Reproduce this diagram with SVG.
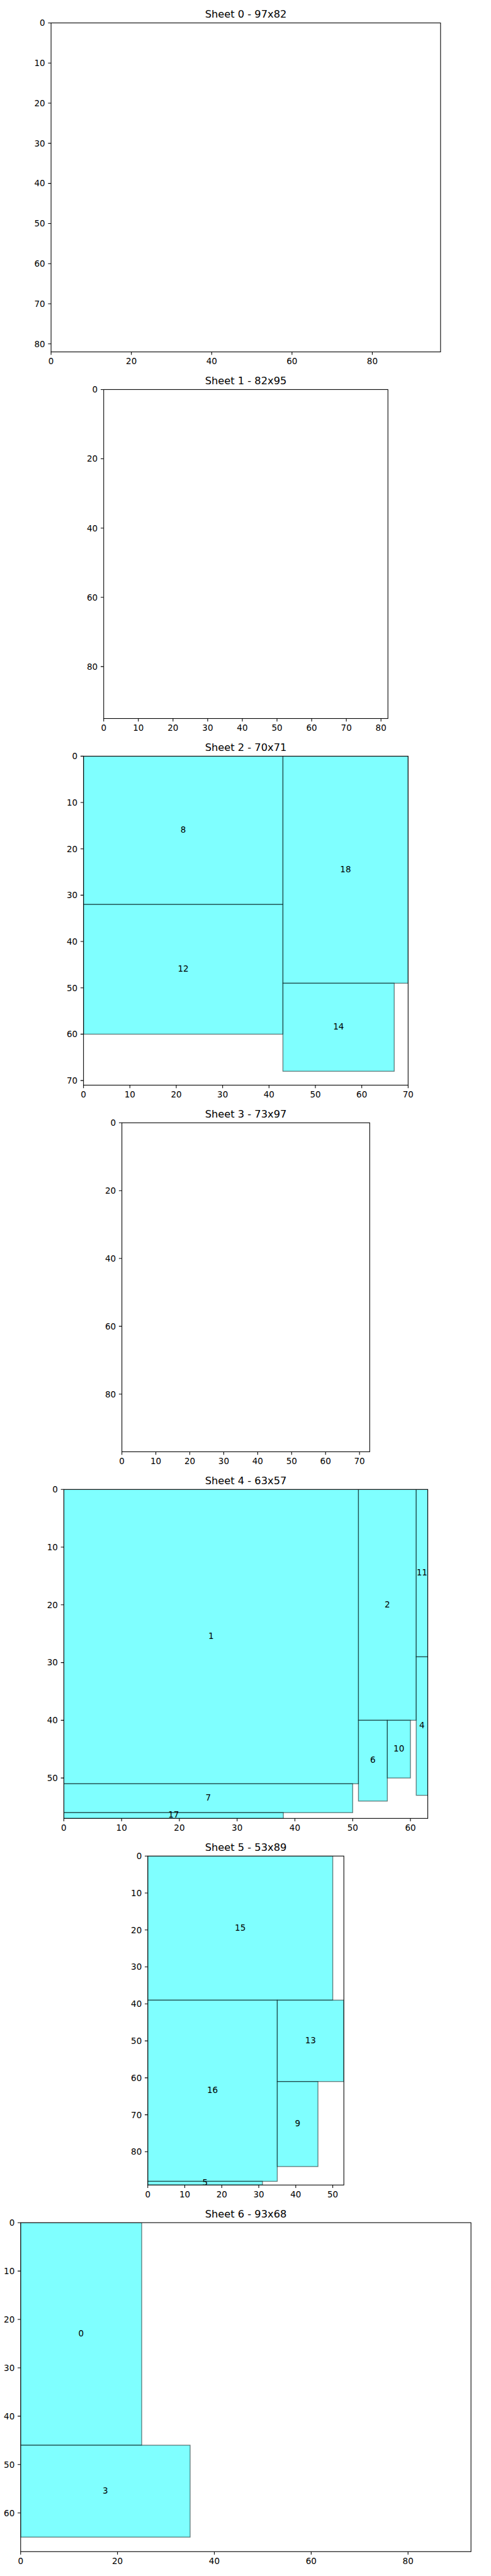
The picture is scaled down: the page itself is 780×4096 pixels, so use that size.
<svg xmlns="http://www.w3.org/2000/svg" width="780" height="4096" viewBox="0 0 780 4096">
<style>
.sp{fill:none;stroke:#000;stroke-width:1.11}
.tk{fill:none;stroke:#000;stroke-width:1.11}
.pc{fill:#00ffff;fill-opacity:0.5;stroke:#000;stroke-opacity:0.5;stroke-width:1.39}
text{font-family:"DejaVu Sans","Liberation Sans",sans-serif;fill:#000}
.lb{font-size:13.89px;text-anchor:middle}
.xt{font-size:13.89px;text-anchor:middle}
.yt{font-size:13.89px;text-anchor:end}
.ti{font-size:16.67px;text-anchor:middle}
</style>
<defs>
<clipPath id="c2" clipPathUnits="userSpaceOnUse"><rect x="136.05" y="1233.2" width="528.9" height="536.5"/></clipPath>
<clipPath id="c4" clipPathUnits="userSpaceOnUse"><rect x="104.01" y="2429" width="592.98" height="536.5"/></clipPath>
<clipPath id="c5" clipPathUnits="userSpaceOnUse"><rect x="240.76" y="3026.9" width="319.49" height="536.5"/></clipPath>
<clipPath id="c6" clipPathUnits="userSpaceOnUse"><rect x="33.63" y="3624.8" width="733.74" height="536.5"/></clipPath>
</defs>
<rect x="0" y="0" width="780" height="4096" fill="#fff"/>
<g transform="scale(0.975)">

<g id="sheet0">
<text class="ti" x="400.5" y="29.1">Sheet 0 - 97x82</text>
<rect class="sp" x="83.2" y="37.4" width="634.6" height="536.5"/>
<path class="tk" d="M78.34 37.4h4.86M78.34 102.83h4.86M78.34 168.25h4.86M78.34 233.68h4.86M78.34 299.11h4.86M78.34 364.53h4.86M78.34 429.96h4.86M78.34 495.39h4.86M78.34 560.82h4.86M83.2 573.9v4.86M214.05 573.9v4.86M344.9 573.9v4.86M475.76 573.9v4.86M606.6 573.9v4.86"/>
<text class="yt" x="73.48" y="42.4">0</text>
<text class="yt" x="73.48" y="107.83">10</text>
<text class="yt" x="73.48" y="173.25">20</text>
<text class="yt" x="73.48" y="238.68">30</text>
<text class="yt" x="73.48" y="304.11">40</text>
<text class="yt" x="73.48" y="369.53">50</text>
<text class="yt" x="73.48" y="434.96">60</text>
<text class="yt" x="73.48" y="500.39">70</text>
<text class="yt" x="73.48" y="565.82">80</text>
<text class="xt" x="83.2" y="594.2">0</text>
<text class="xt" x="214.05" y="594.2">20</text>
<text class="xt" x="344.9" y="594.2">40</text>
<text class="xt" x="475.76" y="594.2">60</text>
<text class="xt" x="606.6" y="594.2">80</text>
</g>

<g id="sheet1">
<text class="ti" x="400.5" y="627">Sheet 1 - 82x95</text>
<rect class="sp" x="168.95" y="635.3" width="463.1" height="536.5"/>
<path class="tk" d="M164.09 635.3h4.86M164.09 748.25h4.86M164.09 861.2h4.86M164.09 974.14h4.86M164.09 1087.09h4.86M168.95 1171.8v4.86M225.42 1171.8v4.86M281.9 1171.8v4.86M338.37 1171.8v4.86M394.85 1171.8v4.86M451.32 1171.8v4.86M507.79 1171.8v4.86M564.27 1171.8v4.86M620.74 1171.8v4.86"/>
<text class="yt" x="159.23" y="640.3">0</text>
<text class="yt" x="159.23" y="753.25">20</text>
<text class="yt" x="159.23" y="866.2">40</text>
<text class="yt" x="159.23" y="979.14">60</text>
<text class="yt" x="159.23" y="1092.09">80</text>
<text class="xt" x="168.95" y="1192.1">0</text>
<text class="xt" x="225.42" y="1192.1">10</text>
<text class="xt" x="281.9" y="1192.1">20</text>
<text class="xt" x="338.37" y="1192.1">30</text>
<text class="xt" x="394.85" y="1192.1">40</text>
<text class="xt" x="451.32" y="1192.1">50</text>
<text class="xt" x="507.79" y="1192.1">60</text>
<text class="xt" x="564.27" y="1192.1">70</text>
<text class="xt" x="620.74" y="1192.1">80</text>
</g>

<g id="sheet2">
<text class="ti" x="400.5" y="1224.9">Sheet 2 - 70x71</text>
<g clip-path="url(#c2)">
<g id="piece8"><rect class="pc" x="136.05" y="1233.2" width="324.92" height="241.8"/><text class="lb" x="298.51" y="1357.9">8</text></g>
<g id="piece12"><rect class="pc" x="136.05" y="1475" width="324.92" height="211.58"/><text class="lb" x="298.51" y="1584.6">12</text></g>
<g id="piece18"><rect class="pc" x="460.97" y="1233.2" width="204.02" height="370.26"/><text class="lb" x="562.98" y="1422.1">18</text></g>
<g id="piece14"><rect class="pc" x="460.97" y="1603.46" width="181.35" height="143.57"/><text class="lb" x="551.65" y="1679">14</text></g>
</g>
<rect class="sp" x="136.05" y="1233.2" width="528.9" height="536.5"/>
<path class="tk" d="M131.19 1233.2h4.86M131.19 1308.76h4.86M131.19 1384.33h4.86M131.19 1459.89h4.86M131.19 1535.45h4.86M131.19 1611.02h4.86M131.19 1686.58h4.86M131.19 1762.14h4.86M136.05 1769.7v4.86M211.61 1769.7v4.86M287.18 1769.7v4.86M362.74 1769.7v4.86M438.3 1769.7v4.86M513.87 1769.7v4.86M589.43 1769.7v4.86M664.99 1769.7v4.86"/>
<text class="yt" x="126.33" y="1238.2">0</text>
<text class="yt" x="126.33" y="1313.76">10</text>
<text class="yt" x="126.33" y="1389.33">20</text>
<text class="yt" x="126.33" y="1464.89">30</text>
<text class="yt" x="126.33" y="1540.45">40</text>
<text class="yt" x="126.33" y="1616.02">50</text>
<text class="yt" x="126.33" y="1691.58">60</text>
<text class="yt" x="126.33" y="1767.14">70</text>
<text class="xt" x="136.05" y="1790">0</text>
<text class="xt" x="211.61" y="1790">10</text>
<text class="xt" x="287.18" y="1790">20</text>
<text class="xt" x="362.74" y="1790">30</text>
<text class="xt" x="438.3" y="1790">40</text>
<text class="xt" x="513.87" y="1790">50</text>
<text class="xt" x="589.43" y="1790">60</text>
<text class="xt" x="664.99" y="1790">70</text>
</g>

<g id="sheet3">
<text class="ti" x="400.5" y="1822.8">Sheet 3 - 73x97</text>
<rect class="sp" x="198.62" y="1831.1" width="403.76" height="536.5"/>
<path class="tk" d="M193.76 1831.1h4.86M193.76 1941.72h4.86M193.76 2052.34h4.86M193.76 2162.96h4.86M193.76 2273.57h4.86M198.62 2367.6v4.86M253.93 2367.6v4.86M309.24 2367.6v4.86M364.55 2367.6v4.86M419.86 2367.6v4.86M475.17 2367.6v4.86M530.47 2367.6v4.86M585.78 2367.6v4.86"/>
<text class="yt" x="188.9" y="1836.1">0</text>
<text class="yt" x="188.9" y="1946.72">20</text>
<text class="yt" x="188.9" y="2057.34">40</text>
<text class="yt" x="188.9" y="2167.96">60</text>
<text class="yt" x="188.9" y="2278.57">80</text>
<text class="xt" x="198.62" y="2387.9">0</text>
<text class="xt" x="253.93" y="2387.9">10</text>
<text class="xt" x="309.24" y="2387.9">20</text>
<text class="xt" x="364.55" y="2387.9">30</text>
<text class="xt" x="419.86" y="2387.9">40</text>
<text class="xt" x="475.17" y="2387.9">50</text>
<text class="xt" x="530.47" y="2387.9">60</text>
<text class="xt" x="585.78" y="2387.9">70</text>
</g>

<g id="sheet4">
<text class="ti" x="400.5" y="2420.7">Sheet 4 - 63x57</text>
<g clip-path="url(#c4)">
<g id="piece1"><rect class="pc" x="104.01" y="2429" width="480.03" height="480.03"/><text class="lb" x="344.02" y="2672.8">1</text></g>
<g id="piece2"><rect class="pc" x="584.04" y="2429" width="94.12" height="376.49"/><text class="lb" x="631.1" y="2621.05">2</text></g>
<g id="piece11"><rect class="pc" x="678.16" y="2429" width="18.83" height="272.96"/><text class="lb" x="687.57" y="2569.3">11</text></g>
<g id="piece4"><rect class="pc" x="678.16" y="2701.96" width="18.83" height="225.89"/><text class="lb" x="687.57" y="2818.7">4</text></g>
<g id="piece6"><rect class="pc" x="584.04" y="2805.49" width="47.06" height="131.77"/><text class="lb" x="607.57" y="2875.2">6</text></g>
<g id="piece10"><rect class="pc" x="631.1" y="2805.49" width="37.65" height="94.13"/><text class="lb" x="649.92" y="2856.35">10</text></g>
<g id="piece7"><rect class="pc" x="104.01" y="2909.03" width="470.62" height="47.06"/><text class="lb" x="339.32" y="2936.4">7</text></g>
<g id="piece17"><rect class="pc" x="104.01" y="2956.09" width="357.67" height="9.41"/><text class="lb" x="282.84" y="2964.6">17</text></g>
</g>
<rect class="sp" x="104.01" y="2429" width="592.98" height="536.5"/>
<path class="tk" d="M99.15 2429h4.86M99.15 2523.12h4.86M99.15 2617.25h4.86M99.15 2711.37h4.86M99.15 2805.49h4.86M99.15 2899.62h4.86M104.01 2965.5v4.86M198.13 2965.5v4.86M292.26 2965.5v4.86M386.38 2965.5v4.86M480.5 2965.5v4.86M574.63 2965.5v4.86M668.75 2965.5v4.86"/>
<text class="yt" x="94.29" y="2434">0</text>
<text class="yt" x="94.29" y="2528.12">10</text>
<text class="yt" x="94.29" y="2622.25">20</text>
<text class="yt" x="94.29" y="2716.37">30</text>
<text class="yt" x="94.29" y="2810.49">40</text>
<text class="yt" x="94.29" y="2904.62">50</text>
<text class="xt" x="104.01" y="2985.8">0</text>
<text class="xt" x="198.13" y="2985.8">10</text>
<text class="xt" x="292.26" y="2985.8">20</text>
<text class="xt" x="386.38" y="2985.8">30</text>
<text class="xt" x="480.5" y="2985.8">40</text>
<text class="xt" x="574.63" y="2985.8">50</text>
<text class="xt" x="668.75" y="2985.8">60</text>
</g>

<g id="sheet5">
<text class="ti" x="400.5" y="3018.6">Sheet 5 - 53x89</text>
<g clip-path="url(#c5)">
<g id="piece15"><rect class="pc" x="240.76" y="3026.9" width="301.41" height="235"/><text class="lb" x="391.46" y="3148.25">15</text></g>
<g id="piece16"><rect class="pc" x="240.76" y="3261.9" width="210.98" height="295.47"/><text class="lb" x="346.25" y="3413.5">16</text></g>
<g id="piece13"><rect class="pc" x="451.74" y="3261.9" width="108.51" height="132.71"/><text class="lb" x="505.96" y="3332.1">13</text></g>
<g id="piece9"><rect class="pc" x="451.74" y="3394.61" width="66.31" height="138.65"/><text class="lb" x="484.9" y="3467.7">9</text></g>
<g id="piece5"><rect class="pc" x="240.76" y="3557.37" width="186.87" height="6.03"/><text class="lb" x="334.2" y="3564.2">5</text></g>
</g>
<rect class="sp" x="240.76" y="3026.9" width="319.49" height="536.5"/>
<path class="tk" d="M235.9 3026.9h4.86M235.9 3087.18h4.86M235.9 3147.46h4.86M235.9 3207.74h4.86M235.9 3268.02h4.86M235.9 3328.31h4.86M235.9 3388.59h4.86M235.9 3448.87h4.86M235.9 3509.15h4.86M240.76 3563.4v4.86M301.04 3563.4v4.86M361.32 3563.4v4.86M421.6 3563.4v4.86M481.88 3563.4v4.86M542.17 3563.4v4.86"/>
<text class="yt" x="231.04" y="3031.9">0</text>
<text class="yt" x="231.04" y="3092.18">10</text>
<text class="yt" x="231.04" y="3152.46">20</text>
<text class="yt" x="231.04" y="3212.74">30</text>
<text class="yt" x="231.04" y="3273.02">40</text>
<text class="yt" x="231.04" y="3333.31">50</text>
<text class="yt" x="231.04" y="3393.59">60</text>
<text class="yt" x="231.04" y="3453.87">70</text>
<text class="yt" x="231.04" y="3514.15">80</text>
<text class="xt" x="240.76" y="3583.7">0</text>
<text class="xt" x="301.04" y="3583.7">10</text>
<text class="xt" x="361.32" y="3583.7">20</text>
<text class="xt" x="421.6" y="3583.7">30</text>
<text class="xt" x="481.88" y="3583.7">40</text>
<text class="xt" x="542.17" y="3583.7">50</text>
</g>

<g id="sheet6">
<text class="ti" x="400.5" y="3616.5">Sheet 6 - 93x68</text>
<g clip-path="url(#c6)">
<g id="piece0"><rect class="pc" x="33.63" y="3624.8" width="197.24" height="362.93"/><text class="lb" x="132.25" y="3810.1">0</text></g>
<g id="piece3"><rect class="pc" x="33.63" y="3987.73" width="276.14" height="149.9"/><text class="lb" x="171.7" y="4066.5">3</text></g>
</g>
<rect class="sp" x="33.63" y="3624.8" width="733.74" height="536.5"/>
<path class="tk" d="M28.77 3624.8h4.86M28.77 3703.7h4.86M28.77 3782.59h4.86M28.77 3861.49h4.86M28.77 3940.39h4.86M28.77 4019.29h4.86M28.77 4098.18h4.86M33.63 4161.3v4.86M191.42 4161.3v4.86M349.22 4161.3v4.86M507.01 4161.3v4.86M664.81 4161.3v4.86"/>
<text class="yt" x="23.91" y="3629.8">0</text>
<text class="yt" x="23.91" y="3708.7">10</text>
<text class="yt" x="23.91" y="3787.59">20</text>
<text class="yt" x="23.91" y="3866.49">30</text>
<text class="yt" x="23.91" y="3945.39">40</text>
<text class="yt" x="23.91" y="4024.29">50</text>
<text class="yt" x="23.91" y="4103.18">60</text>
<text class="xt" x="33.63" y="4181.6">0</text>
<text class="xt" x="191.42" y="4181.6">20</text>
<text class="xt" x="349.22" y="4181.6">40</text>
<text class="xt" x="507.01" y="4181.6">60</text>
<text class="xt" x="664.81" y="4181.6">80</text>
</g>

</g>
</svg>
